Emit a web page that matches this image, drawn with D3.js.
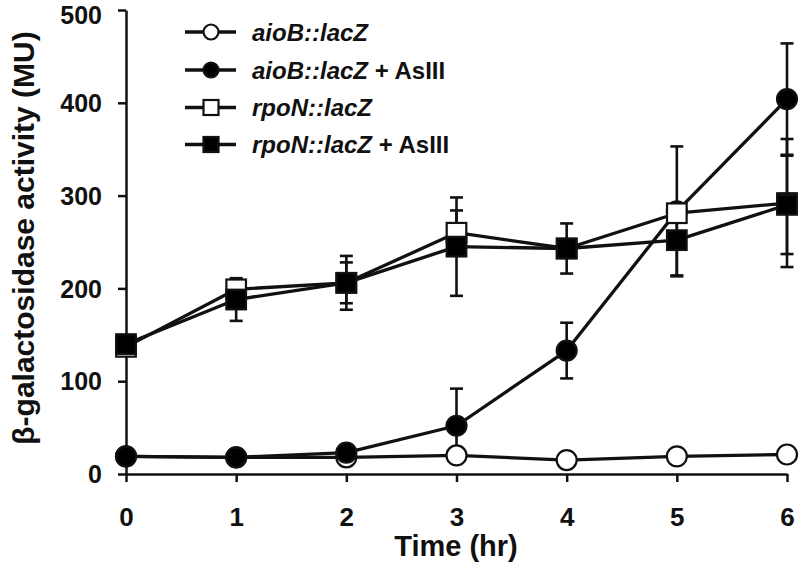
<!DOCTYPE html>
<html>
<head>
<meta charset="utf-8">
<script src="https://cdn.jsdelivr.net/npm/d3@7"></script>
<style>
  html, body { margin: 0; padding: 0; background: #fff; }
  svg { display: block; }
  text { font-family: "Liberation Sans", Arial, sans-serif; font-weight: bold; fill: #111; }
</style>
</head>
<body>
<svg id="chart" width="800" height="576"></svg>
<script>
// ---- data ----
const times = [0, 1, 2, 3, 4, 5, 6];
const aioB      = [19, 18, 18, 20, 15, 19, 21];
const aioBErr   = [0, 0, 0, 0, 0, 0, 0];
const aioBAs    = [19, 18, 23, 52, 133, 283, 404];
const aioBAsErr = [0, 0, 3, 40, 30, 70, 60];
const rpoN      = [137, 199, 206, 260, 243, 281, 292];
const rpoNErr   = [0, 10, 29, 24, 27, 10, 69];
const rpoNAs    = [140, 188, 206, 245, 243, 252, 290];
const rpoNAsErr = [0, 23, 22, 53, 10, 38, 53];
const yTicks = [0, 100, 200, 300, 400, 500];
const xTicks = [0, 1, 2, 3, 4, 5, 6];
const seriesNames = ["aioB::lacZ", "aioB::lacZ", "rpoN::lacZ", "rpoN::lacZ"];
const seriesSuffix = ["", " + AsIII", "", " + AsIII"];
const xTitle = "Time (hr)";
const yTitle = "β-galactosidase activity (MU)";

const series = [
  { vals: aioB,   err: aioBErr,   shape: "circle", fill: "#fff" },
  { vals: aioBAs, err: aioBAsErr, shape: "circle", fill: "#000" },
  { vals: rpoN,   err: rpoNErr,   shape: "square", fill: "#fff" },
  { vals: rpoNAs, err: rpoNAsErr, shape: "square", fill: "#000" }
];

const svg = d3.select("#chart");
const x = d3.scaleLinear().domain([0, 6]).range([126, 787]);
const y = d3.scaleLinear().domain([0, 500]).range([474, 10]);

// ---- axes ----
const gy = svg.append("g").attr("transform", `translate(${x(0)},0)`)
  .call(d3.axisLeft(y).tickValues(yTicks).tickFormat(d3.format("d"))
    .tickSize(8).tickSizeOuter(0).tickPadding(16));
const gx = svg.append("g").attr("transform", `translate(0,${y(0)})`)
  .call(d3.axisBottom(x).tickValues(xTicks).tickFormat(d3.format("d"))
    .tickSize(8).tickSizeOuter(0).tickPadding(26));
[gy, gx].forEach(g => {
  g.select(".domain").attr("stroke", "#111").attr("stroke-width", 2.5);
  g.selectAll(".tick line").attr("stroke", "#111").attr("stroke-width", 2.5);
  g.selectAll(".tick text").style("font-size", "26px").attr("fill", "#111")
    .style("font-family", '"Liberation Sans", Arial, sans-serif').style("font-weight", "bold");
});
gy.selectAll(".tick text").style("font-size", "25px").attr("dy", "0.35em");
gy.selectAll(".tick").filter(d => d === 500).select("text").attr("dy", "13px");

svg.append("text").attr("x", 456).attr("y", 556).attr("text-anchor", "middle")
  .style("font-size", "29px").text(xTitle);
svg.append("text").attr("transform", "translate(34,238) rotate(-90)")
  .attr("text-anchor", "middle").style("font-size", "30px").text(yTitle);

// ---- lines ----
const line = d3.line().x((d, i) => x(times[i])).y(d => y(d));
series.forEach(s => {
  svg.append("path").datum(s.vals).attr("d", line)
    .attr("fill", "none").attr("stroke", "#111").attr("stroke-width", 3.3)
    .attr("stroke-linejoin", "round");
});

// ---- error bars ----
const capW = 6.5;
series.forEach(s => {
  const g = svg.append("g").attr("stroke", "#111").attr("stroke-width", 2.6);
  s.vals.forEach((v, i) => {
    const e = s.err[i];
    if (!e) return;
    const cx = x(times[i]);
    g.append("line").attr("x1", cx).attr("x2", cx).attr("y1", y(v - e)).attr("y2", y(v + e));
    g.append("line").attr("x1", cx - capW).attr("x2", cx + capW).attr("y1", y(v + e)).attr("y2", y(v + e));
    g.append("line").attr("x1", cx - capW).attr("x2", cx + capW).attr("y1", y(v - e)).attr("y2", y(v - e));
  });
});

// ---- markers ----
function drawMarker(g, shape, fill, cx, cy, size) {
  if (shape === "circle") {
    g.append("circle").attr("cx", cx).attr("cy", cy).attr("r", size)
      .attr("fill", fill).attr("stroke", "#111").attr("stroke-width", 2.2);
  } else {
    g.append("rect").attr("x", cx - size).attr("y", cy - size)
      .attr("width", size * 2).attr("height", size * 2)
      .attr("fill", fill).attr("stroke", "#111").attr("stroke-width", 2.2);
  }
}
series.forEach(s => {
  const g = svg.append("g");
  s.vals.forEach((v, i) => {
    drawMarker(g, s.shape, s.fill, x(times[i]), y(v), s.shape === "circle" ? 10 : 9.8);
  });
});

// ---- legend ----
const legRows = [32, 70, 107.5, 144.5];
series.forEach((s, i) => {
  const g = svg.append("g");
  const cy = legRows[i];
  g.append("line").attr("x1", 185).attr("x2", 236).attr("y1", cy).attr("y2", cy)
    .attr("stroke", "#111").attr("stroke-width", 3.3);
  drawMarker(g, s.shape, s.fill, 211, cy, 7.5);
  const t = g.append("text").attr("x", 252).attr("y", cy + 8.5).style("font-size", "24px");
  t.append("tspan").style("font-style", "italic").text(seriesNames[i]);
  if (seriesSuffix[i]) t.append("tspan").text(seriesSuffix[i]);
});
</script>
</body>
</html>
